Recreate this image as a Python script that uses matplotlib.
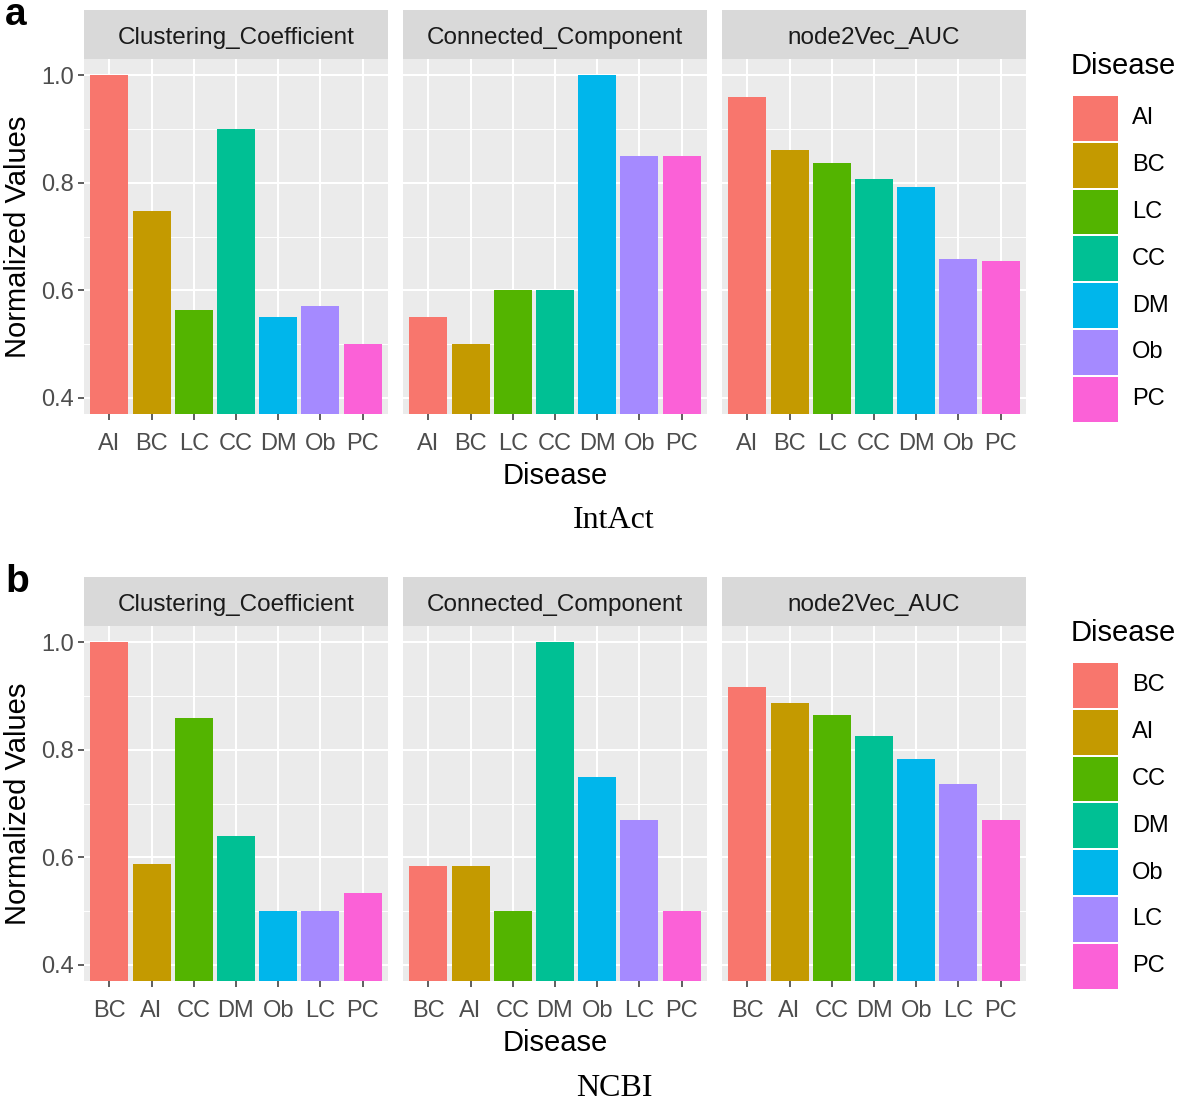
import matplotlib
matplotlib.use("Agg")
import matplotlib.pyplot as plt
from matplotlib.patches import Rectangle

plt.rcParams['font.family'] = ['Liberation Sans', 'DejaVu Sans']

# ---- data ----
metrics = ["Clustering_Coefficient", "Connected_Component", "node2Vec_AUC"]

intact_order = ["AI", "BC", "LC", "CC", "DM", "Ob", "PC"]
intact_clust = [1.0, 0.748, 0.563, 0.90, 0.551, 0.570, 0.50]
intact_conn = [0.55, 0.50, 0.60, 0.60, 1.0, 0.85, 0.85]
intact_n2v = [0.960, 0.860, 0.837, 0.807, 0.792, 0.658, 0.654]

ncbi_order = ["BC", "AI", "CC", "DM", "Ob", "LC", "PC"]
ncbi_clust = [1.0, 0.588, 0.859, 0.640, 0.50, 0.50, 0.534]
ncbi_conn = [0.584, 0.584, 0.50, 1.0, 0.749, 0.669, 0.50]
ncbi_n2v = [0.916, 0.887, 0.864, 0.825, 0.783, 0.737, 0.669]

hue_colors = ["#F8766D", "#C49A00", "#53B400", "#00C094", "#00B6EB", "#A58AFF", "#FB61D7"]

W, H = 1182, 1102
fig = plt.figure(figsize=(W / 100, H / 100), dpi=100)


def rect(x0, y0, x1, y1):
    return [x0 / W, 1 - y1 / H, (x1 - x0) / W, (y1 - y0) / H]


def px(x, y):
    return x / W, 1 - y / H


facet_x = [(84, 388), (403, 707), (722, 1026)]


def draw_row(off, order, series, tag, title):
    strip_top, strip_bot, panel_bot = 10 + off, 59 + off, 414 + off
    cats = range(len(order))
    for k, (x0, x1) in enumerate(facet_x):
        sax = fig.add_axes(rect(x0, strip_top, x1, strip_bot))
        sax.set_facecolor("#D9D9D9")
        sax.set_xticks([]); sax.set_yticks([])
        for s in sax.spines.values():
            s.set_visible(False)
        sax.text(0.5, 0.42, metrics[k], ha="center", va="center",
                 fontsize=17.5, color="#1A1A1A", transform=sax.transAxes)

        ax = fig.add_axes(rect(x0, strip_bot, x1, panel_bot))
        ax.set_facecolor("#EBEBEB")
        for s in ax.spines.values():
            s.set_visible(False)
        ax.set_xlim(-0.6, len(order) - 0.4)
        ax.set_ylim(0.37, 1.03)
        for v in [0.5, 0.7, 0.9]:
            ax.axhline(v, color="white", lw=0.7, zorder=0)
        for v in [0.4, 0.6, 0.8, 1.0]:
            ax.axhline(v, color="white", lw=1.5, zorder=0)
        for c in cats:
            ax.axvline(c, color="white", lw=1.5, zorder=0)
        ax.bar(list(cats), series[k], width=0.9, color=hue_colors,
               edgecolor="none", zorder=2)
        ax.set_xticks(list(cats))
        ax.set_xticklabels(order)
        ax.set_yticks([0.4, 0.6, 0.8, 1.0])
        ax.tick_params(axis="both", colors="#333333", labelcolor="#4D4D4D",
                       labelsize=17, length=4.5, width=1.1, pad=3)
        ax.tick_params(axis="x", pad=9)
        if k == 0:
            ax.set_yticklabels(["0.4", "0.6", "0.8", "1.0"])
            ax.set_ylabel("Normalized Values", fontsize=21, color="black", labelpad=6)
        else:
            ax.tick_params(axis="y", length=0, labelleft=False)
        if k == 1:
            ax.set_xlabel("Disease", fontsize=21, color="black", labelpad=5)

    # legend
    leg_top, leg_step = 96 + off, 46.8
    fig.text(*px(1071, 66 + off), "Disease", fontsize=21, ha="left", va="center")
    for i, (name, col) in enumerate(zip(order, hue_colors)):
        ky = leg_top + i * leg_step
        fig.patches.append(Rectangle(px(1073, ky + leg_step - 2), 45 / W, (leg_step - 2) / H,
                                     transform=fig.transFigure, facecolor=col,
                                     edgecolor="none"))
        fig.text(*px(1132, ky + (leg_step - 2) / 2), name, fontsize=17,
                 ha="left", va="center")

    fig.text(*px(5, 25 + off), tag, fontsize=28, fontweight="bold",
             ha="left", va="baseline")
    fig.text(*px(614, 521 + off), title, fontsize=23, ha="center",
             va="center", family="Liberation Serif")


draw_row(0, intact_order, [intact_clust, intact_conn, intact_n2v], "a", "IntAct")
draw_row(567, ncbi_order, [ncbi_clust, ncbi_conn, ncbi_n2v], "b", "NCBI")

fig.savefig("out.png", dpi=100, facecolor="white")
